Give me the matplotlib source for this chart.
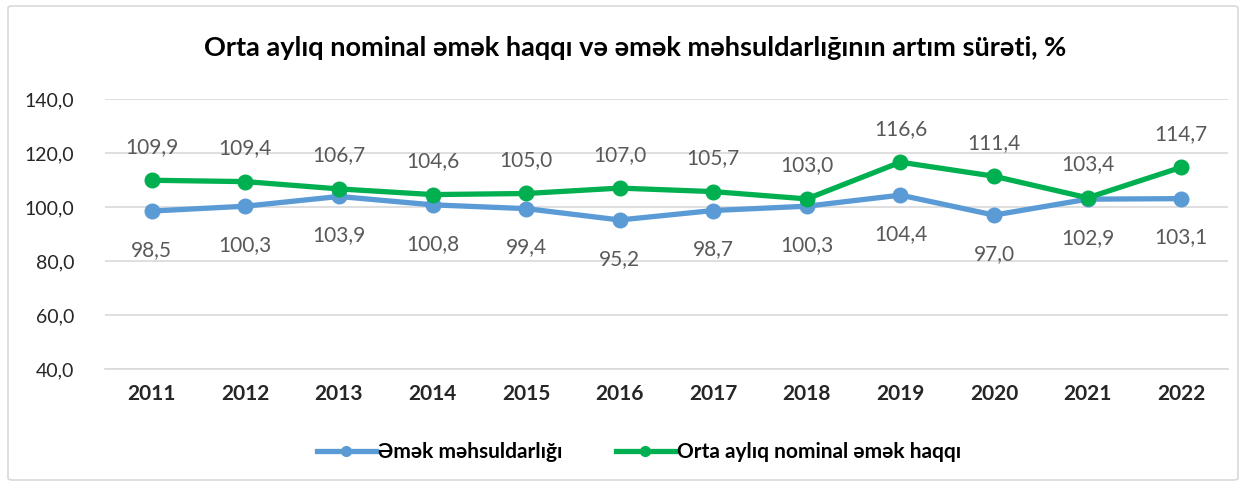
import matplotlib.pyplot as plt
from matplotlib.patches import FancyBboxPatch
from matplotlib.lines import Line2D

years = ['2011', '2012', '2013', '2014', '2015', '2016', '2017', '2018', '2019', '2020', '2021', '2022']
productivity = [98.5, 100.3, 103.9, 100.8, 99.4, 95.2, 98.7, 100.3, 104.4, 97.0, 102.9, 103.1]
wage = [109.9, 109.4, 106.7, 104.6, 105.0, 107.0, 105.7, 103.0, 116.6, 111.4, 103.4, 114.7]
yticks = [40, 60, 80, 100, 120, 140]
names = ['Əmək məhsuldarlığı', 'Orta aylıq nominal əmək haqqı']

plt.rcParams['font.family'] = ['Lato', 'DejaVu Sans']

fig = plt.figure(figsize=(12.53, 4.86), dpi=100)
ax = fig.add_axes([105 / 1253, 1 - 369 / 486, 1123 / 1253, 270 / 486])

# light frame round the whole chart
fig.patches.append(FancyBboxPatch((8 / 1253, 6 / 486), 1230 / 1253, 474 / 486,
                                  boxstyle='round,pad=0,rounding_size=0.004',
                                  transform=fig.transFigure, fill=False,
                                  edgecolor='#d9d9d9', linewidth=1.2))

x = list(range(len(years)))
blue = '#5b9bd5'
green = '#00b050'
ax.plot(x, productivity, color=blue, linewidth=3.8, marker='o', markersize=10.5,
        solid_capstyle='round', zorder=3)
ax.plot(x, wage, color=green, linewidth=3.8, marker='o', markersize=10.5,
        solid_capstyle='round', zorder=4)

for xi, v in zip(x, productivity):
    ax.annotate(f'{v:.1f}'.replace('.', ','), (xi, v), xytext=(0, -28),
                textcoords='offset points', ha='center', va='center',
                fontsize=15, color='#595959')
for xi, v in zip(x, wage):
    ax.annotate(f'{v:.1f}'.replace('.', ','), (xi, v), xytext=(0, 24),
                textcoords='offset points', ha='center', va='center',
                fontsize=15, color='#595959')

ax.set_xlim(-0.5, len(years) - 0.5)
ax.set_ylim(40, 140)
ax.set_yticks(yticks)
ax.set_yticklabels([f'{t:.1f}'.replace('.', ',') for t in yticks], fontsize=14, color='#262626')
ax.set_xticks(x)
ax.set_xticklabels(years, fontsize=15, fontweight='bold', color='#262626')
ax.tick_params(length=0)
ax.tick_params(axis='y', pad=22)
ax.tick_params(axis='x', pad=11)
ax.grid(axis='y', color='#d9d9d9', linewidth=1.2)
ax.set_axisbelow(True)
for s in ['top', 'right', 'left']:
    ax.spines[s].set_visible(False)
ax.spines['bottom'].set_color('#d9d9d9')
ax.spines['bottom'].set_linewidth(1.2)

fig.text(0.507, 1 - 48 / 486, 'Orta aylıq nominal əmək haqqı və əmək məhsuldarlığının artım sürəti, %',
         ha='center', va='center', fontsize=19.5, fontweight='bold', color='#000000')

handles = [Line2D([], [], color=blue, linewidth=3.8, marker='o', markersize=7),
           Line2D([], [], color=green, linewidth=3.8, marker='o', markersize=7)]
fig.legend(handles, names, loc='center', bbox_to_anchor=(0.51, 1 - 452 / 486), ncol=2,
           frameon=False, handlelength=2.8, columnspacing=2.6, handletextpad=0.1,
           prop={'weight': 'bold', 'size': 15})

fig.savefig('out.png', dpi=100)
